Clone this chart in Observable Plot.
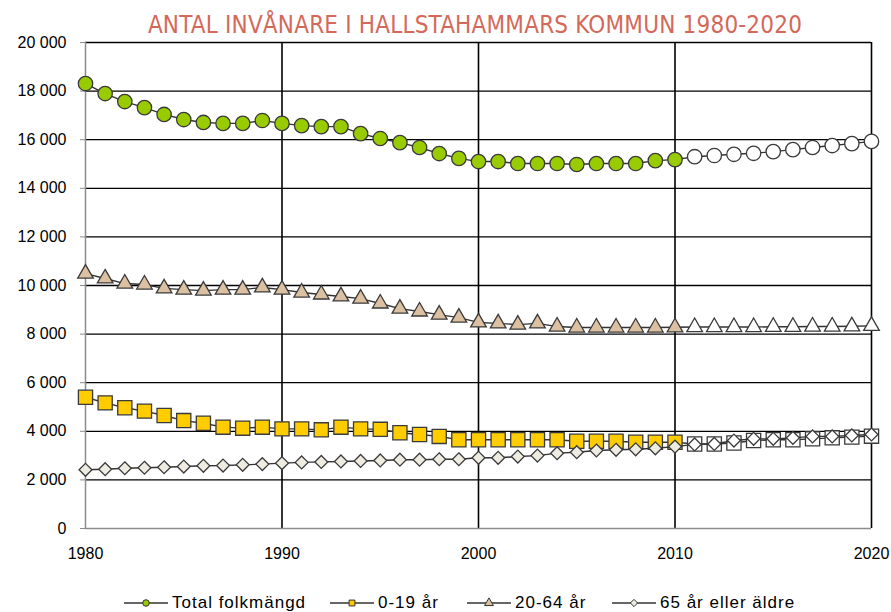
<!DOCTYPE html>
<html>
<head>
<meta charset="utf-8">
<script src="https://cdn.jsdelivr.net/npm/d3@7"></script>
<script src="https://cdn.jsdelivr.net/npm/@observablehq/plot@0.6"></script>
<style>
  html, body { margin: 0; padding: 0; background: #fff; }
  #wrap { position: relative; width: 891px; height: 612px; overflow: hidden; font-family: "Liberation Sans", Arial, sans-serif; }
  #title { position: absolute; left: 0; width: 950px; top: 11px; text-align: center; font-family: "Liberation Sans Narrow", "DejaVu Sans Condensed", sans-serif; font-size: 24px; color: #d4695a; letter-spacing: 0.2px; }
  #legend { position: absolute; top: 593px; left: 0; height: 20px; font-size: 17px; letter-spacing: 1px; color: #000; }
  .item { position: absolute; top: 0; white-space: nowrap; display: flex; align-items: center; }
  .item svg { margin-right: 4px; }
</style>
</head>
<body>
<div id="wrap">
  <div id="title">ANTAL INVÅNARE I HALLSTAHAMMARS KOMMUN 1980-2020</div>
  <div id="chart"></div>
  <div id="legend"></div>
</div>
<script>
const years = d3.range(1980, 2021);
const seriesNames = ["Total folkmängd", "0-19 år", "20-64 år", "65 år eller äldre"];
const yTicks = [0, 2000, 4000, 6000, 8000, 10000, 12000, 14000, 16000, 18000, 20000];
const xTicks = [1980, 1990, 2000, 2010, 2020];
const lastObserved = 2010;

const total = [18310, 17900, 17570, 17320, 17040, 16830, 16710, 16670, 16670, 16790,
               16670, 16580, 16540, 16540, 16250, 16050, 15880, 15680, 15430, 15230,
               15100, 15100, 15020, 15020, 15020, 14980, 15020, 15020, 15020, 15140,
               15180, 15300, 15350, 15400, 15440, 15510, 15590, 15680, 15760, 15840, 15930];
const age0_19 = [5400, 5170, 4970, 4830, 4650, 4440, 4330, 4170, 4130, 4170,
                 4100, 4100, 4060, 4170, 4100, 4080, 3940, 3870, 3790, 3650,
                 3650, 3650, 3650, 3650, 3650, 3590, 3590, 3590, 3550, 3550,
                 3550, 3480, 3480, 3520, 3620, 3650, 3650, 3690, 3730, 3760, 3800];
const age20_64 = [10490, 10290, 10080, 10040, 9880, 9830, 9790, 9830, 9830, 9920,
                  9830, 9710, 9630, 9550, 9460, 9260, 9050, 8930, 8800, 8680,
                  8480, 8440, 8390, 8440, 8310, 8270, 8270, 8270, 8270, 8270,
                  8280, 8290, 8290, 8290, 8290, 8300, 8300, 8310, 8310, 8320, 8340];
const age65 = [2415, 2440, 2480, 2500, 2520, 2550, 2580, 2590, 2620, 2650,
               2690, 2720, 2740, 2760, 2780, 2800, 2830, 2830, 2850, 2850,
               2910, 2910, 2960, 3000, 3100, 3140, 3210, 3240, 3260, 3300,
               3370, 3460, 3480, 3620, 3690, 3690, 3730, 3790, 3790, 3830, 3870];

const colors = {
  "Total folkmängd": "#99cc00",
  "0-19 år": "#ffcc00",
  "20-64 år": "#dcc0a2",
  "65 år eller äldre": "#eeebe0"
};
const symbols = {
  "Total folkmängd": "circle",
  "0-19 år": "square",
  "20-64 år": "triangle",
  "65 år eller äldre": "diamond2"
};
const radii = {
  "Total folkmängd": 7.2,
  "0-19 år": 8.0,
  "20-64 år": 5.8,
  "65 år eller äldre": 5.8
};
const valuesBy = {
  "Total folkmängd": total,
  "0-19 år": age0_19,
  "20-64 år": age20_64,
  "65 år eller äldre": age65
};

const data = seriesNames.flatMap(name =>
  years.map((year, i) => ({ series: name, year, value: valuesBy[name][i], projected: year > lastObserved }))
);

const fmt = d => d3.format(",")(d).replace(/,/g, " ");

const marks = [
  Plot.ruleY(yTicks.filter(d => d > 0), { stroke: "#000", strokeWidth: 1.3 }),
  Plot.ruleX(xTicks.filter(d => d > 1980), { stroke: "#000", strokeWidth: 1.6 }),
  Plot.ruleY([0], { stroke: "#8c8c8c", strokeWidth: 1.5 }),
  Plot.ruleX([1980], { stroke: "#8c8c8c", strokeWidth: 1.5 }),
  Plot.axisY({ ticks: yTicks, tickFormat: fmt, tickSize: 5, tickPadding: 14, stroke: "#8c8c8c", fill: "#000", label: null, fontSize: 16 }),
  Plot.axisX({ ticks: xTicks, tickFormat: d => String(d), tickSize: 0, tickPadding: 19, fill: "#000", label: null, fontSize: 16 })
];
for (const name of seriesNames) {
  const rows = data.filter(d => d.series === name);
  marks.push(Plot.line(rows, { x: "year", y: "value", stroke: "#333", strokeWidth: 1.4 }));
  marks.push(Plot.dot(rows, {
    x: "year", y: "value",
    symbol: () => symbols[name],
    r: radii[name],
    fill: d => d.projected ? "#fff" : colors[name],
    stroke: "#3a3a3a",
    strokeWidth: 1.3
  }));
}

const chart = Plot.plot({
  width: 891,
  height: 612,
  marginTop: 42,
  marginBottom: 84,
  marginLeft: 85,
  marginRight: 20,
  style: { fontFamily: "'Liberation Sans', Arial, sans-serif", fontSize: "16px", color: "#000", background: "#fff" },
  x: { type: "linear", domain: [1980, 2020] },
  y: { type: "linear", domain: [0, 20000] },
  symbol: { type: "identity" },
  fill: { type: "identity" },
  marks
});
document.getElementById("chart").appendChild(chart);

// Legend (line + marker swatches)
const legendPos = [
  { name: "Total folkmängd", x: 124 },
  { name: "0-19 år", x: 330 },
  { name: "20-64 år", x: 467 },
  { name: "65 år eller äldre", x: 612 }
];
const legend = document.getElementById("legend");
for (const p of legendPos) {
  const item = document.createElement("div");
  item.className = "item";
  item.style.left = p.x + "px";
  const sym = d3.symbol().type({
    circle: d3.symbolCircle, square: d3.symbolSquare, triangle: d3.symbolTriangle, diamond2: d3.symbolDiamond2
  }[symbols[p.name]]).size(34)();
  item.innerHTML = `<svg width="44" height="20" viewBox="0 0 44 20">
      <line x1="0" x2="44" y1="10" y2="10" stroke="#333" stroke-width="1.4"></line>
      <path d="${sym}" transform="translate(22,10)" fill="${colors[p.name]}" stroke="#333" stroke-width="1"></path>
    </svg><span>${p.name}</span>`;
  legend.appendChild(item);
}
</script>
</body>
</html>
